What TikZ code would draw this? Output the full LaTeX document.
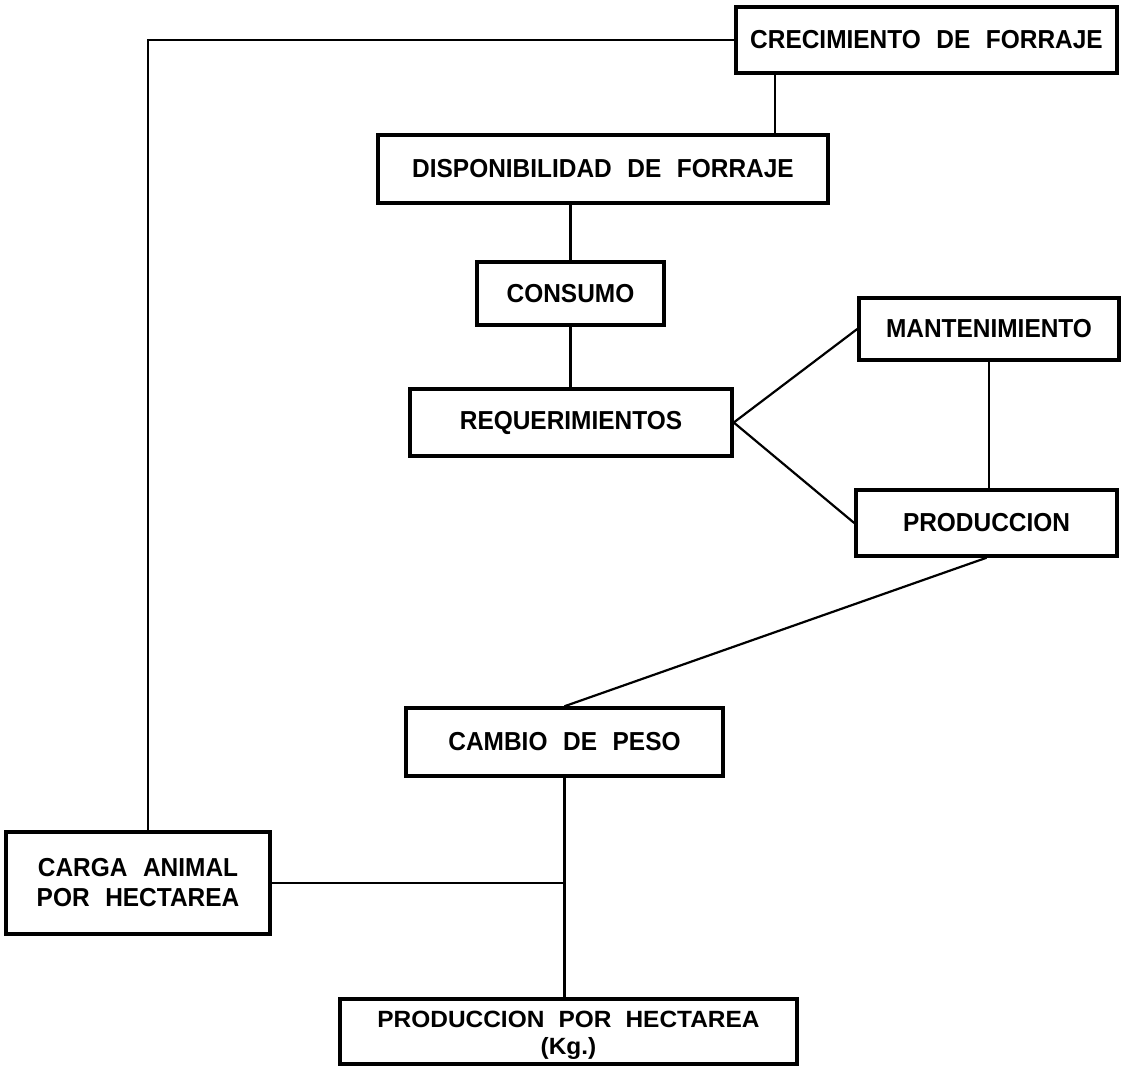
\documentclass[tikz,border=0pt]{standalone}
\usepackage{fontspec}
\setmainfont{Liberation Sans}[FakeStretch=0.94]
\newfontfamily\widefont{Liberation Sans}[FakeStretch=1.04]
\newcommand{\gap}{\hspace{0.6em}}
\begin{document}
\begin{tikzpicture}[x=1pt,y=-1pt,
  box/.style={draw,line width=3.5pt,rectangle,inner sep=0pt,align=center,
    font=\fontsize{26}{30}\selectfont\bfseries},
  link/.style={line width=2.2pt}]
\useasboundingbox[fill=white] (0,0) rectangle (1124,1066);
% boxes: centre, width, height
\node[box,minimum width=381pt,minimum height=66pt] (crec) at (926.5,40) {CRECIMIENTO\gap DE\gap FORRAJE};
\node[box,minimum width=450pt,minimum height=68pt] (disp) at (603,169) {DISPONIBILIDAD\gap DE\gap FORRAJE};
\node[box,minimum width=187pt,minimum height=63pt] (cons) at (570.5,293.5) {CONSUMO};
\node[box,minimum width=322pt,minimum height=67pt] (req) at (571,422.5) {REQUERIMIENTOS};
\node[box,minimum width=260pt,minimum height=62pt] (mant) at (989,329) {MANTENIMIENTO};
\node[box,minimum width=261pt,minimum height=66pt] (prod) at (986.5,523) {PRODUCCION};
\node[box,minimum width=317pt,minimum height=68pt] (camb) at (564.5,742) {CAMBIO\gap DE\gap PESO};
\node[box,minimum width=264pt,minimum height=102pt] (carga) at (138,883) {CARGA\gap ANIMAL\\POR\gap HECTAREA};
\node[box,minimum width=457pt,minimum height=65pt,
  font=\widefont\fontsize{23.5}{27}\selectfont\bfseries] (pph) at (568.5,1031.5)
  {\raisebox{-4pt}[\height][\depth]{\begin{tabular}{@{}c@{}}PRODUCCION\gap POR\gap HECTAREA\\(Kg.)\end{tabular}}};
% connectors
\coordinate (fb) at (148,40);
\draw[link] (crec.west) -- (fb) -- (fb |- carga.north);
\draw[link] ([xshift=-151.5pt]crec.south) -- ([xshift=-151.5pt]crec.south |- disp.north);
\draw[link] (cons.north |- disp.south) -- (cons.north);
\draw[link] (cons.south) -- (cons.south |- req.north);
\draw[link] (req.east) -- (mant.west);
\draw[link] (req.east) -- (prod.west);
\draw[link] (mant.south) -- (mant.south |- prod.north);
\draw[link] (prod.south) -- (camb.north);
\coordinate (jn) at (camb.south |- carga.east);
\draw[link] (camb.south) -- (camb.south |- pph.north);
\draw[link] (carga.east) -- (jn);
\end{tikzpicture}
\end{document}
